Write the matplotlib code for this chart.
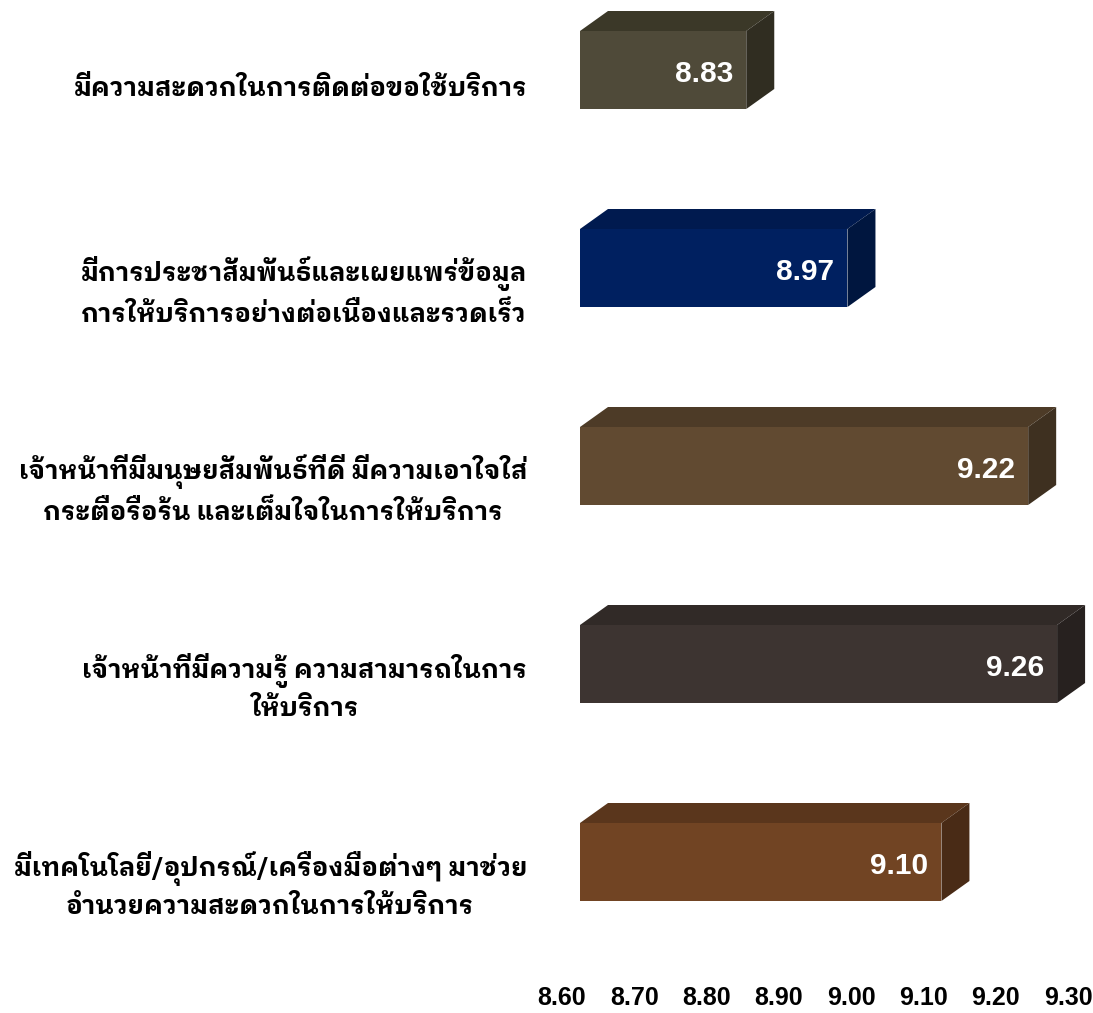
import matplotlib
matplotlib.use("Agg")
import matplotlib.pyplot as plt
from matplotlib.patches import Polygon
from matplotlib.transforms import ScaledTranslation

# ---- data ----
categories = [
    "มีความสะดวกในการติดต่อขอใช้บริการ",
    "มีการประชาสัมพันธ์และเผยแพร่ข้อมูล\nการให้บริการอย่างต่อเนื่องและรวดเร็ว",
    "เจ้าหน้าที่มีมนุษยสัมพันธ์ที่ดี มีความเอาใจใส่\nกระตือรือร้น และเต็มใจในการให้บริการ",
    "เจ้าหน้าที่มีความรู้ ความสามารถในการ\nให้บริการ",
    "มีเทคโนโลยี/อุปกรณ์/เครื่องมือต่างๆ มาช่วย\nอำนวยความสะดวกในการให้บริการ",
]
scores = [8.83, 8.97, 9.22, 9.26, 9.10]
x_ticks = [8.60, 8.70, 8.80, 8.90, 9.00, 9.10, 9.20, 9.30]
x_tick_labels = ["8.60", "8.70", "8.80", "8.90", "9.00", "9.10", "9.20", "9.30"]

front_colors = ["#4f4a39", "#002060", "#614a31", "#3d3431", "#714423"]
top_colors = ["#3b3828", "#001a4f", "#4d3b27", "#312a27", "#5a361c"]
side_colors = ["#302d21", "#00163f", "#3e3020", "#27211f", "#492b16"]

THAI = ["IBM Plex Sans Thai Looped", "DejaVu Sans"]
NUM = "Liberation Sans"

W, H, DPI = 1093, 1013, 100
fig = plt.figure(figsize=(W / DPI, H / DPI), dpi=DPI)
fig.patch.set_facecolor("white")

# plot area: x 580..1086 px, y 0..960 px from top
ax = fig.add_axes([580 / W, (H - 960) / H, 506 / W, 960 / H])
x_min, x_max = 8.60, 9.30
ax.set_xlim(x_min, x_max)
pitch = 198.0
ax.set_ylim((960 - 70) / pitch, -70 / pitch)

bar_h = 78 / pitch
dx = 28 / 506 * (x_max - x_min)   # depth offset in data units
dy = 20 / pitch

ypos = list(range(len(scores)))
ax.barh(ypos, [s - x_min for s in scores], left=x_min, height=bar_h,
        color=front_colors, edgecolor="none", zorder=3)

for i, (s, tc, sc) in enumerate(zip(scores, top_colors, side_colors)):
    top = i - bar_h / 2
    bot = i + bar_h / 2
    ax.add_patch(Polygon([(x_min, top), (s, top), (s + dx, top - dy),
                          (x_min + dx, top - dy)], closed=True,
                         facecolor=tc, edgecolor="none", zorder=2, clip_on=False))
    ax.add_patch(Polygon([(s, top), (s + dx, top - dy), (s + dx, bot - dy),
                          (s, bot)], closed=True,
                         facecolor=sc, edgecolor="none", zorder=2, clip_on=False))
    ax.text(s, i, f"{s:.2f}", color="white", fontsize=21.5, fontweight="bold",
            family=NUM, ha="right", va="center", zorder=4,
            transform=ax.transData + ScaledTranslation(-0.13, -0.04, fig.dpi_scale_trans))

for side in ax.spines.values():
    side.set_visible(False)

ax.set_xticks(x_ticks)
ax.set_xticklabels(x_tick_labels, fontsize=18, fontweight="bold", family=NUM)
ax.tick_params(axis="x", length=0, pad=19)
for lab in ax.get_xticklabels():
    lab.set_transform(lab.get_transform() + ScaledTranslation(-0.18, 0, fig.dpi_scale_trans))

ax.set_yticks(ypos)
ax.set_yticklabels(categories, fontsize=18.5, fontweight="bold", family=THAI)
ax.tick_params(axis="y", length=0, pad=38)
for lab in ax.get_yticklabels():
    lab.set_multialignment("center")
    lab.set_linespacing(1.48)
    lab.set_transform(lab.get_transform() + ScaledTranslation(0, -0.16, fig.dpi_scale_trans))

fig.savefig("out.png", dpi=DPI, facecolor="white")
